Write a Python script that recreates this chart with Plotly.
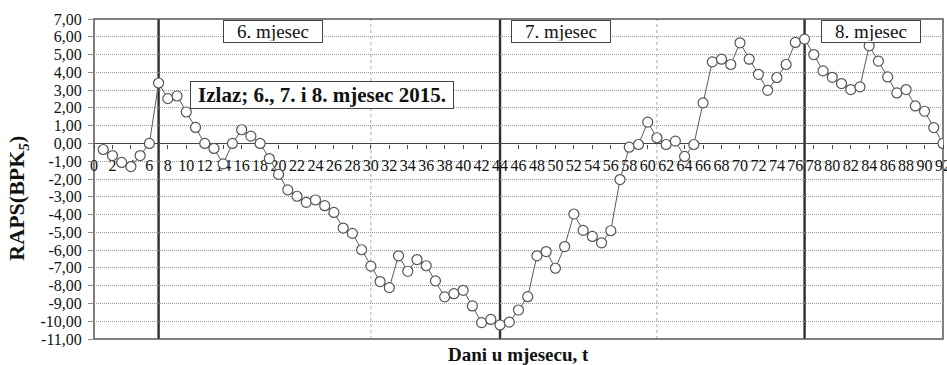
import plotly.graph_objects as go

# Daily RAPS values of the BPK5 series, days 1..92 (June-August 2015)
days = list(range(1, 93))
raps = [
    -0.34, -0.68, -1.07, -1.30, -0.68, 0.00, 3.40, 2.52, 2.67, 1.77,
    0.90, 0.00, -0.28, -1.15, 0.00, 0.77, 0.41, 0.00, -0.85, -1.74,
    -2.61, -2.97, -3.31, -3.18, -3.50, -3.88, -4.76, -5.06, -5.98, -6.90,
    -7.77, -8.11, -6.32, -7.19, -6.53, -6.88, -7.73, -8.63, -8.45, -8.26,
    -9.14, -10.08, -9.90, -10.21, -10.05, -9.37, -8.62, -6.32, -6.08, -7.02,
    -5.80, -3.97, -4.89, -5.23, -5.59, -4.91, -2.03, -0.21, -0.06, 1.20,
    0.32, -0.06, 0.13, -0.73, -0.06, 2.28, 4.59, 4.74, 4.44, 5.66,
    4.74, 3.89, 2.99, 3.71, 4.44, 5.68, 5.87, 5.00, 4.08, 3.72,
    3.37, 3.03, 3.18, 5.49, 4.63, 3.74, 2.84, 3.03, 2.11, 1.81,
    0.89, 0.00,
]

# Month boundaries (solid) and mid-month markers (dashed)
month_starts = [7, 44, 77]
mid_marks = [30, 61]
month_names = ["6. mjesec", "7. mjesec", "8. mjesec"]
month_label_x = [19.45, 50.6, 84.25]

x_ticks = list(range(0, 93, 2))
y_ticks = list(range(-11, 8))
y_ticktext = [f"{v},00" for v in y_ticks]

SERIF = "Liberation Serif"

fig = go.Figure()
fig.add_trace(go.Scatter(
    x=days, y=raps, mode="lines+markers",
    line=dict(color="#5a5a5a", width=1),
    marker=dict(symbol="circle", size=10, color="white",
                line=dict(color="#555555", width=1.2)),
    showlegend=False, hoverinfo="x+y",
))

shapes = []
for m in mid_marks:
    shapes.append(dict(type="line", xref="x", yref="paper", x0=m, x1=m, y0=0, y1=1,
                       line=dict(color="#a8a8a8", width=1, dash="3px,3px"), layer="below"))
for m in month_starts:
    shapes.append(dict(type="line", xref="x", yref="paper", x0=m, x1=m, y0=0, y1=1,
                       line=dict(color="#2e2e2e", width=2.4), layer="below"))
# plot frame
shapes.append(dict(type="rect", xref="paper", yref="paper", x0=0, x1=1, y0=0, y1=1,
                   line=dict(color="#555555", width=1.5), layer="below"))

annotations = []
for name, xm in zip(month_names, month_label_x):
    annotations.append(dict(
        x=xm, y=6.3, xref="x", yref="y", text=name, showarrow=False,
        font=dict(family=SERIF, size=19, color="#111"),
        bgcolor="white", bordercolor="#444", borderwidth=1,
        width=96, height=19, borderpad=1,
    ))
annotations.append(dict(
    x=24.76, y=2.75, xref="x", yref="y",
    text="<b>Izlaz; 6., 7. i 8. mjesec 2015.</b>", showarrow=False,
    font=dict(family=SERIF, size=21, color="#111"),
    bgcolor="white", bordercolor="#444", borderwidth=1,
    width=260, height=24, borderpad=1,
))
annotations.append(dict(
    x=-0.089, y=0.44, xref="paper", yref="paper", textangle=-90,
    text="<b>RAPS(BPK<sub><i>5</i></sub>)</b>", showarrow=False,
    font=dict(family=SERIF, size=22, color="#111"),
    xanchor="center", yanchor="middle",
))
annotations.append(dict(
    x=0.5, y=-0.047, xref="paper", yref="paper",
    text="<b>Dani u mjesecu, t</b>", showarrow=False,
    font=dict(family=SERIF, size=19, color="#111"),
    xanchor="center", yanchor="middle",
))

fig.update_layout(
    width=947, height=365,
    margin=dict(l=94, r=4, t=19, b=26),
    paper_bgcolor="white", plot_bgcolor="white",
    shapes=shapes, annotations=annotations,
    xaxis=dict(
        range=[0, 92], anchor="free", position=11 / 18,
        showgrid=False, zeroline=False, automargin=False,
        showline=True, linecolor="#444", linewidth=1.2,
        ticks="outside", ticklen=4, tickcolor="#444",
        tickvals=x_ticks, ticktext=[str(t) for t in x_ticks],
        tickfont=dict(family=SERIF, size=16, color="#111"),
        ticklabelstandoff=3, ticklabeloverflow="allow",
        layer="below traces",
    ),
    yaxis=dict(
        range=[-11, 7], showgrid=True, gridcolor="#999999", griddash="1px,1px", gridwidth=1,
        zeroline=False, showline=False, automargin=False,
        ticks="outside", ticklen=5, tickcolor="#8c8c8c",
        tickvals=y_ticks, ticktext=y_ticktext,
        tickfont=dict(family=SERIF, size=16, color="#111"),
        ticklabelstandoff=3,
    ),
)

fig.write_html("out.html")
